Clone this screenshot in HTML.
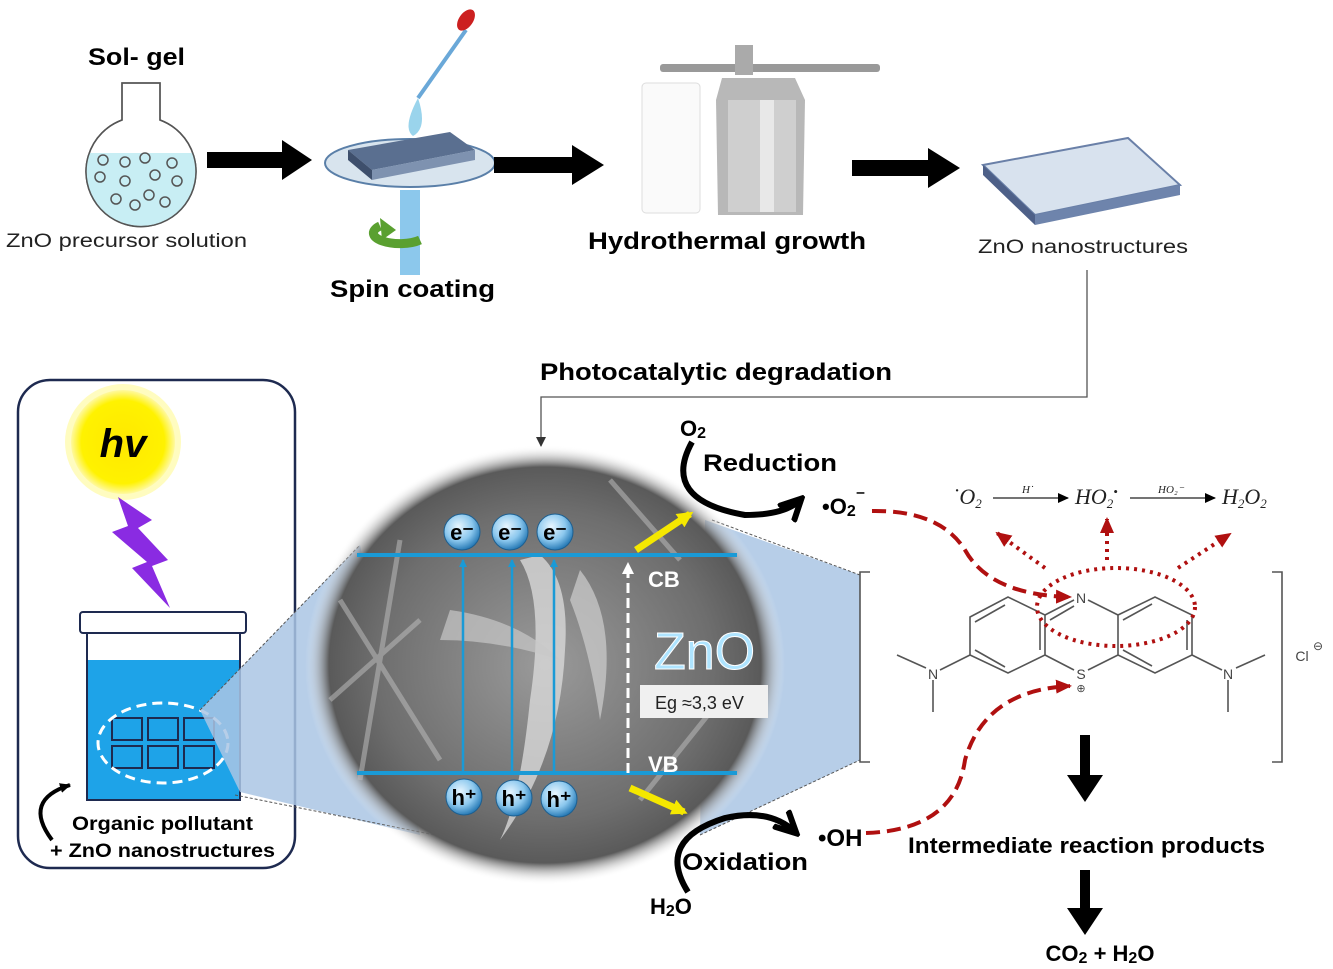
<!DOCTYPE html>
<html><head><meta charset="utf-8"><style>
html,body{margin:0;padding:0;background:#fff;}
svg{display:block;font-family:"Liberation Sans",sans-serif;}
.b{font-weight:bold;}
</style></head><body>
<svg width="1333" height="969" viewBox="0 0 1333 969" xmlns="http://www.w3.org/2000/svg">
<defs>
<radialGradient id="sem" cx="50%" cy="50%" r="50%">
<stop offset="0" stop-color="#9a9a9a"/><stop offset="0.7" stop-color="#6e6e6e"/><stop offset="0.9" stop-color="#5a5a5a"/><stop offset="1" stop-color="#fff" stop-opacity="0"/>
</radialGradient>
<radialGradient id="sun" cx="50%" cy="50%" r="50%">
<stop offset="0" stop-color="#ffe800"/><stop offset="0.8" stop-color="#fff200"/><stop offset="1" stop-color="#fff9a0"/>
</radialGradient>
<radialGradient id="ball" cx="40%" cy="35%" r="65%">
<stop offset="0" stop-color="#e8f6ff"/><stop offset="0.6" stop-color="#8cc8ee"/><stop offset="1" stop-color="#2b7db8"/>
</radialGradient>
<marker id="ah" markerWidth="10" markerHeight="10" refX="9" refY="5" orient="auto" markerUnits="userSpaceOnUse"><path d="M0,0 L10,5 L0,10z" fill="#333"/></marker>
<marker id="bh" markerWidth="8" markerHeight="8" refX="7" refY="4" orient="auto" markerUnits="userSpaceOnUse"><path d="M0,0 L8,4 L0,8z" fill="#1a9ad6"/></marker>
<marker id="wh" markerWidth="12" markerHeight="12" refX="10" refY="6" orient="auto" markerUnits="userSpaceOnUse"><path d="M0,0 L12,6 L0,12z" fill="#fff"/></marker>
<marker id="rh" markerWidth="16" markerHeight="14" refX="14" refY="7" orient="auto" markerUnits="userSpaceOnUse"><path d="M0,0 L16,7 L0,14z" fill="#b01010"/></marker>
<marker id="yh" markerWidth="16" markerHeight="16" refX="12" refY="8" orient="auto" markerUnits="userSpaceOnUse"><path d="M0,0 L16,8 L0,16z" fill="#f5e800"/></marker>
<marker id="kh" markerWidth="26" markerHeight="26" refX="20" refY="13" orient="auto" markerUnits="userSpaceOnUse"><path d="M0,2 L22,13 L0,24" fill="none" stroke="#000" stroke-width="6"/></marker>
<marker id="sh" markerWidth="12" markerHeight="12" refX="10" refY="6" orient="auto" markerUnits="userSpaceOnUse"><path d="M0,1 L11,6 L0,11z" fill="#000"/></marker>
</defs>

<!-- Top row -->
<text x="88" y="65" font-size="24" class="b" textLength="97" lengthAdjust="spacingAndGlyphs">Sol- gel</text>
<path d="M122,83 L160,83 L160,120 A55,55 0 1 1 122,120 Z" fill="#fff" stroke="#555" stroke-width="1.5"/>
<path d="M89,153 L193,153 A55,55 0 1 1 89,153Z" fill="#c8eef4"/>
<path d="M122,83 L160,83 L160,120 A55,55 0 1 1 122,120 Z" fill="none" stroke="#555" stroke-width="1.5"/>
<g fill="none" stroke="#555" stroke-width="1.5">
<circle cx="103" cy="160" r="5"/><circle cx="125" cy="162" r="5"/><circle cx="145" cy="158" r="5"/><circle cx="172" cy="163" r="5"/>
<circle cx="100" cy="177" r="5"/><circle cx="125" cy="181" r="5"/><circle cx="155" cy="175" r="5"/><circle cx="177" cy="181" r="5"/>
<circle cx="116" cy="199" r="5"/><circle cx="135" cy="205" r="5"/><circle cx="149" cy="195" r="5"/><circle cx="165" cy="202" r="5"/>
</g>
<text x="6" y="247" font-size="19" fill="#222" textLength="241" lengthAdjust="spacingAndGlyphs">ZnO precursor solution</text>
<path d="M207,152 L282,152 L282,140 L312,160 L282,180 L282,168 L207,168Z" fill="#000"/>

<!-- spin coater -->
<rect x="400" y="190" width="20" height="85" fill="#8cc8ec"/>
<ellipse cx="410" cy="163" rx="85" ry="24" fill="#d8e4ee" stroke="#5a7fa8" stroke-width="2"/>
<path d="M348,150 L450,132 L475,150 L372,170Z" fill="#5a6f90"/>
<path d="M348,150 L372,170 L372,180 L348,160Z" fill="#3e4f6c"/>
<path d="M372,170 L475,150 L475,160 L372,180Z" fill="#7e92b0"/>
<path d="M420,240 a25,10 0 1 1 -40,-14" fill="none" stroke="#5aa030" stroke-width="9"/>
<path d="M380,218 l16,12 l-14,10z" fill="#5aa030"/>
<text x="330" y="297" font-size="24" class="b" textLength="165" lengthAdjust="spacingAndGlyphs">Spin coating</text>
<line x1="466" y1="30" x2="418" y2="98" stroke="#6aa8d8" stroke-width="4"/>
<ellipse cx="466" cy="20" rx="7" ry="12" transform="rotate(35 466 20)" fill="#cc2020"/>
<path d="M418,98 Q402,128 413,136 Q428,128 418,98Z" fill="#9ad4ec"/>
<path d="M494,157 L572,157 L572,145 L604,165 L572,185 L572,173 L494,173Z" fill="#000"/>

<!-- hydrothermal -->
<rect x="642" y="83" width="58" height="130" rx="4" fill="#fafafa" stroke="#ddd"/>
<rect x="660" y="64" width="220" height="8" rx="3" fill="#999"/>
<rect x="735" y="45" width="18" height="30" fill="#aaa"/>
<path d="M722,78 L795,78 L805,100 L803,215 L718,215 L716,100Z" fill="#b8b8b8"/>
<rect x="728" y="100" width="68" height="112" fill="#cfcfcf"/>
<rect x="760" y="100" width="14" height="112" fill="#e8e8e8"/>
<text x="588" y="249" font-size="24" class="b" textLength="278" lengthAdjust="spacingAndGlyphs">Hydrothermal growth</text>
<path d="M852,160 L928,160 L928,148 L960,168 L928,188 L928,176 L852,176Z" fill="#000"/>

<!-- ZnO plate -->
<path d="M983,165 L1128,138 L1180,185 L1035,215Z" fill="#d8e2ee" stroke="#6a80a8" stroke-width="2"/>
<path d="M983,165 L1035,215 L1035,225 L983,175Z" fill="#4e6088"/>
<path d="M1035,215 L1180,185 L1180,195 L1035,225Z" fill="#6e84ac"/>
<text x="978" y="253" font-size="19" fill="#222" textLength="210" lengthAdjust="spacingAndGlyphs">ZnO nanostructures</text>

<!-- connector -->
<polyline points="1087,270 1087,397 541,397 541,446" fill="none" stroke="#555" stroke-width="1.3" marker-end="url(#ah)"/>
<text x="540" y="380" font-size="24" class="b" textLength="352" lengthAdjust="spacingAndGlyphs">Photocatalytic degradation</text>

<!-- Left box -->
<rect x="18" y="380" width="277" height="488" rx="32" fill="#fff" stroke="#1e2a50" stroke-width="2.5"/>
<circle cx="123" cy="442" r="58" fill="#fffbb0" opacity="0.8"/>
<circle cx="123" cy="442" r="52" fill="url(#sun)"/>
<text x="123" y="457" font-size="40" class="b" font-style="italic" text-anchor="middle">hv</text>
<path d="M118,497 L152,520 L138,528 L168,560 L152,566 L170,608 L132,568 L147,562 L112,532 L128,526 Z" fill="#8a2be2"/>
<rect x="80" y="612" width="166" height="21" rx="3" fill="#fff" stroke="#1e2a50" stroke-width="2"/>
<rect x="87" y="633" width="153" height="167" fill="#1ea3e8" stroke="#1e2a50" stroke-width="2"/>
<rect x="88" y="634" width="151" height="26" fill="#fff"/>
<g fill="none" stroke="#1e2a50" stroke-width="2">
<rect x="112" y="718" width="30" height="22"/><rect x="148" y="718" width="30" height="22"/><rect x="184" y="718" width="30" height="22"/>
<rect x="112" y="746" width="30" height="22"/><rect x="148" y="746" width="30" height="22"/><rect x="184" y="746" width="30" height="22"/>
</g>
<ellipse cx="163" cy="743" rx="65" ry="40" fill="none" stroke="#fff" stroke-width="3" stroke-dasharray="10,6"/>
<path d="M52,840 Q22,800 70,785" fill="none" stroke="#000" stroke-width="4" marker-end="url(#sh)"/>
<text x="72" y="830" font-size="19" class="b" textLength="181" lengthAdjust="spacingAndGlyphs">Organic pollutant</text>
<text x="50" y="857" font-size="19" class="b" textLength="225" lengthAdjust="spacingAndGlyphs">+ ZnO nanostructures</text>

<!-- zoom trapezoids -->
<polygon points="200,710 360,545 420,835 240,792" fill="#aac6e4" opacity="0.85"/>
<line x1="200" y1="710" x2="360" y2="545" stroke="#555" stroke-dasharray="3,2"/>
<line x1="235" y1="795" x2="460" y2="840" stroke="#555" stroke-dasharray="3,2"/>
<polygon points="705,520 860,575 860,760 700,835" fill="#aac6e4" opacity="0.85"/>
<line x1="712" y1="520" x2="860" y2="575" stroke="#555" stroke-dasharray="3,2"/>
<line x1="700" y1="835" x2="860" y2="760" stroke="#555" stroke-dasharray="3,2"/>

<!-- SEM ellipse -->
<ellipse cx="545" cy="665" rx="240" ry="220" fill="url(#sem)"/>
<g stroke="#bbb" stroke-width="5" opacity="0.55">
<line x1="340" y1="600" x2="440" y2="760"/><line x1="330" y1="700" x2="420" y2="620"/><line x1="360" y1="780" x2="400" y2="540"/>
<line x1="610" y1="480" x2="680" y2="560"/><line x1="640" y1="800" x2="720" y2="700"/>
</g>
<path d="M520,560 Q545,600 530,700 Q520,800 500,840 Q560,760 565,650 Q570,580 540,555Z" fill="#d8d8d8" opacity="0.8"/>
<path d="M450,610 Q520,620 560,660 Q500,640 440,640Z" fill="#c8c8c8" opacity="0.7"/>
<path d="M580,570 Q620,620 600,720 Q590,650 570,600Z" fill="#cfcfcf" opacity="0.7"/>

<line x1="357" y1="555" x2="737" y2="555" stroke="#1a9ad6" stroke-width="4"/>
<line x1="357" y1="773" x2="737" y2="773" stroke="#1a9ad6" stroke-width="4"/>
<g stroke="#1a9ad6" stroke-width="2.5">
<line x1="463" y1="773" x2="463" y2="560" marker-end="url(#bh)"/>
<line x1="512" y1="773" x2="512" y2="560" marker-end="url(#bh)"/>
<line x1="554" y1="773" x2="554" y2="560" marker-end="url(#bh)"/>
</g>
<line x1="628" y1="773" x2="628" y2="564" stroke="#fff" stroke-width="3" stroke-dasharray="10,5" marker-end="url(#wh)"/>
<g font-size="22" class="b" text-anchor="middle">
<circle cx="462" cy="532" r="18" fill="url(#ball)" stroke="#1d5f90"/><text x="462" y="540">e⁻</text>
<circle cx="510" cy="532" r="18" fill="url(#ball)" stroke="#1d5f90"/><text x="510" y="540">e⁻</text>
<circle cx="555" cy="532" r="18" fill="url(#ball)" stroke="#1d5f90"/><text x="555" y="540">e⁻</text>
<circle cx="464" cy="797" r="18" fill="url(#ball)" stroke="#1d5f90"/><text x="464" y="805">h⁺</text>
<circle cx="514" cy="798" r="18" fill="url(#ball)" stroke="#1d5f90"/><text x="514" y="806">h⁺</text>
<circle cx="559" cy="799" r="18" fill="url(#ball)" stroke="#1d5f90"/><text x="559" y="807">h⁺</text>
</g>
<text x="648" y="587" font-size="22" class="b" fill="#fff">CB</text>
<text x="648" y="772" font-size="22" class="b" fill="#fff">VB</text>
<text x="654" y="669" font-size="52" fill="#aee4ff" stroke="#fff" stroke-width="1">ZnO</text>
<rect x="640" y="685" width="128" height="33" fill="#f0f0f0"/>
<text x="655" y="709" font-size="18" fill="#222">Eg ≈3,3 eV</text>
<line x1="636" y1="550" x2="690" y2="514" stroke="#f5e800" stroke-width="7" marker-end="url(#yh)"/>
<line x1="630" y1="788" x2="684" y2="812" stroke="#f5e800" stroke-width="7" marker-end="url(#yh)"/>

<!-- Reduction / Oxidation -->
<text x="680" y="436" font-size="22" class="b">O<tspan font-size="16" dy="2">2</tspan></text>
<path d="M692,442 Q660,500 745,515 Q785,515 800,500" fill="none" stroke="#000" stroke-width="6" marker-end="url(#kh)"/>
<text x="703" y="471" font-size="24" class="b" textLength="134" lengthAdjust="spacingAndGlyphs">Reduction</text>
<text x="822" y="514" font-size="22" class="b">•O<tspan font-size="16" dy="2">2</tspan><tspan font-size="18" dy="-14">⁻</tspan></text>
<path d="M688,892 Q655,840 725,818 Q770,808 795,832" fill="none" stroke="#000" stroke-width="6" marker-end="url(#kh)"/>
<text x="682" y="870" font-size="24" class="b" textLength="126" lengthAdjust="spacingAndGlyphs">Oxidation</text>
<text x="650" y="914" font-size="22" class="b">H<tspan font-size="16" dy="2">2</tspan><tspan dy="-2">O</tspan></text>
<text x="818" y="846" font-size="24" class="b">•OH</text>

<!-- Equation -->
<g font-family="Liberation Serif,serif" font-style="italic" fill="#222">
<text x="952" y="504" font-size="22">˙O<tspan font-size="13" dy="4">2</tspan></text>
<text x="1022" y="493" font-size="11">H˙</text>
<text x="1075" y="504" font-size="22">HO<tspan font-size="13" dy="4">2</tspan><tspan font-size="13" dy="-12">•</tspan></text>
<text x="1158" y="493" font-size="11">HO₂⁻</text>
<text x="1222" y="504" font-size="22">H<tspan font-size="13" dy="4">2</tspan><tspan dy="-4">O</tspan><tspan font-size="13" dy="4">2</tspan></text>
</g>
<line x1="993" y1="498" x2="1068" y2="498" stroke="#222" stroke-width="1.2" marker-end="url(#sh)"/>
<line x1="1130" y1="498" x2="1215" y2="498" stroke="#222" stroke-width="1.2" marker-end="url(#sh)"/>

<!-- molecule -->
<g fill="none" stroke="#555" stroke-width="1.6">
<polyline points="870,572 860,572 860,762 870,762"/>
<polyline points="1272,572 1282,572 1282,762 1272,762"/>
<polygon points="970,617 1008,597 1045,615 1045,655 1008,673 970,655"/>
<polygon points="1118,615 1155,597 1192,615 1192,655 1155,673 1118,655"/>
<polyline points="1045,615 1074,600"/><polyline points="1088,600 1118,615"/>
<polyline points="1045,655 1074,670"/><polyline points="1088,670 1118,655"/>
<line x1="975" y1="622" x2="1005" y2="605"/><line x1="1040" y1="650" x2="1040" y2="620"/>
<line x1="1050" y1="620" x2="1074" y2="606"/><line x1="1123" y1="620" x2="1152" y2="604"/>
<line x1="1187" y1="620" x2="1187" y2="650"/><line x1="1123" y1="650" x2="1152" y2="666"/>
<line x1="975" y1="650" x2="1005" y2="667"/>
<polyline points="970,655 940,670"/><polyline points="926,668 897,655"/><line x1="933" y1="680" x2="933" y2="712"/>
<polyline points="1192,655 1222,670"/><polyline points="1236,668 1265,655"/><line x1="1228" y1="680" x2="1228" y2="712"/>
</g>
<g font-size="14" fill="#444" text-anchor="middle">
<text x="1081" y="603">N</text><text x="1081" y="679">S</text><text x="1081" y="692" font-size="11">⊕</text>
<text x="933" y="679">N</text><text x="1228" y="679">N</text>
<text x="1302" y="661">Cl</text><text x="1318" y="650" font-size="12">⊖</text>
</g>
<ellipse cx="1116" cy="607" rx="79" ry="39" fill="none" stroke="#b01010" stroke-width="4" stroke-dasharray="3,5"/>
<g stroke="#b01010" stroke-width="4" stroke-dasharray="3,5" fill="none">
<line x1="1045" y1="568" x2="997" y2="533" marker-end="url(#rh)"/>
<line x1="1107" y1="560" x2="1107" y2="519" marker-end="url(#rh)"/>
<line x1="1178" y1="568" x2="1230" y2="534" marker-end="url(#rh)"/>
</g>
<path d="M872,511 Q940,510 965,550 Q990,595 1070,597" fill="none" stroke="#b01010" stroke-width="4" stroke-dasharray="14,7" marker-end="url(#rh)"/>
<path d="M866,833 Q955,830 965,760 Q985,690 1070,686" fill="none" stroke="#b01010" stroke-width="4" stroke-dasharray="14,7" marker-end="url(#rh)"/>

<!-- right column -->
<path d="M1080,735 L1090,735 L1090,775 L1103,775 L1085,802 L1067,775 L1080,775Z" fill="#000"/>
<text x="908" y="853" font-size="22" class="b" textLength="357" lengthAdjust="spacingAndGlyphs">Intermediate reaction products</text>
<path d="M1080,870 L1090,870 L1090,908 L1103,908 L1085,935 L1067,908 L1080,908Z" fill="#000"/>
<text x="1100" y="961" font-size="22" class="b" text-anchor="middle">CO<tspan font-size="16" dy="2">2</tspan><tspan dy="-2"> + H</tspan><tspan font-size="16" dy="2">2</tspan><tspan dy="-2">O</tspan></text>
</svg>
</body></html>
